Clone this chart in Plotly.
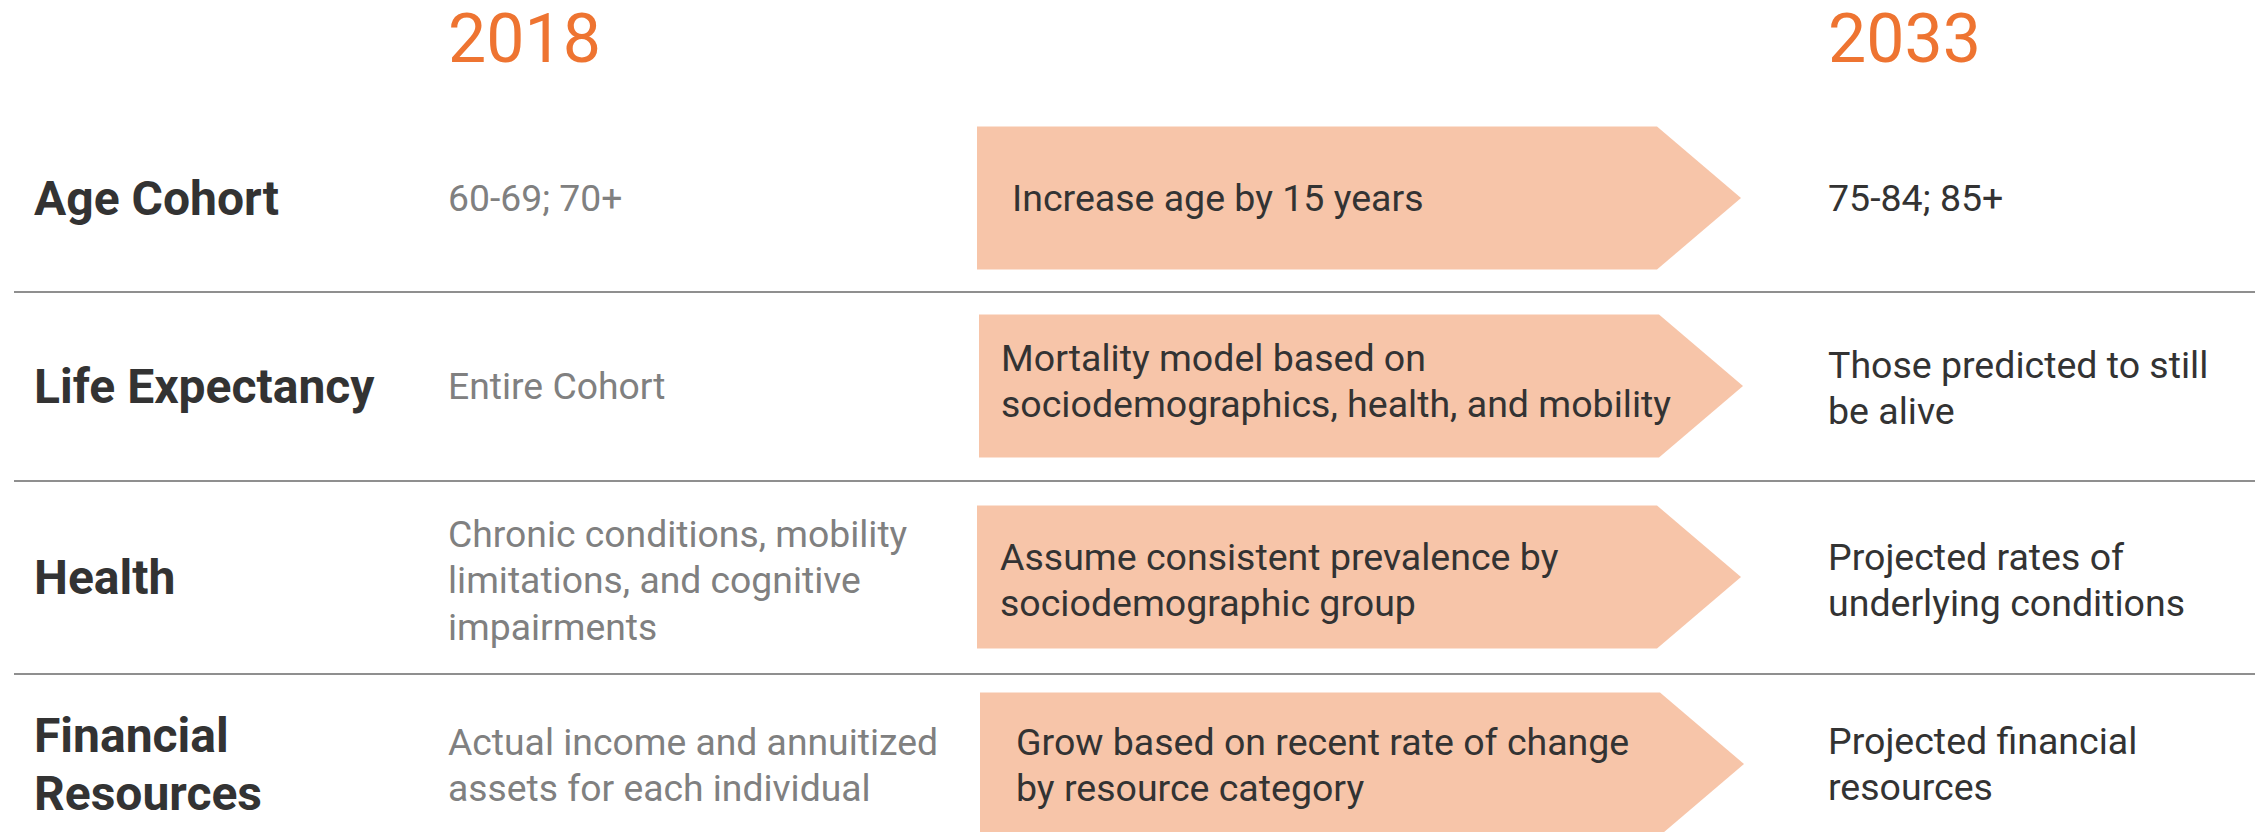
import plotly.graph_objects as go

# ---- content ----
years = ["2018", "2033"]
row_labels = ["Age Cohort", "Life Expectancy", "Health", "Financial<br>Resources"]
baseline_text = [
    "60-69; 70+",
    "Entire Cohort",
    "Chronic conditions, mobility<br>limitations, and cognitive<br>impairments",
    "Actual income and annuitized<br>assets for each individual",
]
method_text = [
    "Increase age by 15 years",
    "Mortality model based on<br>sociodemographics, health, and mobility",
    "Assume consistent prevalence by<br>sociodemographic group",
    "Grow based on recent rate of change<br>by resource category",
]
projected_text = [
    "75-84; 85+",
    "Those predicted to still<br>be alive",
    "Projected rates of<br>underlying conditions",
    "Projected financial<br>resources",
]

# ---- layout constants ----
W, H = 2267, 832
row_centers = [198, 386, 577, 764]
sep_y = [292, 481, 674]
arrow_left = [977, 979, 977, 980]
arrow_text_x = [1010, 999, 998, 1014]
arrow_body_w = 680
arrow_tip_w = 84
arrow_h = 143
label_x = 32
base_x = 446
proj_x = 1826
year_x = [446, 1826]
year_y = 39
# small per-row vertical nudges of the text blocks
dy_label = [0, 0, 0, 0]
dy_base = [0, 0, 3, 1]
dy_method = [0, -5, 3, 1]
dy_proj = [0, 2, 3, 0]

ORANGE = "#EE7431"
PEACH = "#F7C5A9"
DARK = "#333333"
GRAY = "#808080"
FONT = "Roboto"

fig = go.Figure()
# invisible trace to establish axes
fig.add_trace(go.Scatter(x=[0, W], y=[0, H], mode="markers",
                         marker=dict(opacity=0), hoverinfo="skip", showlegend=False))

shapes = []
for y in sep_y:
    shapes.append(dict(type="line", xref="x", yref="y", x0=14, x1=2255, y0=y, y1=y,
                       line=dict(color="#8f8f8f", width=2)))
for i, cy in enumerate(row_centers):
    x0 = arrow_left[i]
    x1 = x0 + arrow_body_w
    xt = x1 + arrow_tip_w
    y0 = cy - arrow_h / 2
    y1 = cy + arrow_h / 2
    path = f"M {x0},{y0} L {x1},{y0} L {xt},{cy} L {x1},{y1} L {x0},{y1} Z"
    shapes.append(dict(type="path", xref="x", yref="y", path=path,
                       fillcolor=PEACH, line=dict(width=0), layer="below"))

annotations = []


def add_lines(text, x, cy, size, color, spacing, bold=False):
    lines = text.split("<br>")
    n = len(lines)
    for k, ln in enumerate(lines):
        y = cy + (k - (n - 1) / 2) * spacing
        annotations.append(dict(
            x=x, y=y, xref="x", yref="y", text=ln, showarrow=False,
            xanchor="left", yanchor="middle", align="left",
            font=dict(family=FONT, size=size, color=color,
                      weight="bold" if bold else "normal")))


for i, yr in enumerate(years):
    add_lines(yr, year_x[i], year_y, 68, ORANGE, 0)

for i, cy in enumerate(row_centers):
    add_lines(row_labels[i], label_x, cy + dy_label[i], 48, DARK, 58, bold=True)
    add_lines(baseline_text[i], base_x, cy + dy_base[i], 37.3, GRAY, 46.5)
    add_lines(method_text[i], arrow_text_x[i], cy + dy_method[i], 37.5, DARK, 46.5)
    add_lines(projected_text[i], proj_x, cy + dy_proj[i], 37.5, DARK, 46.5)

fig.update_layout(
    width=W, height=H,
    margin=dict(l=0, r=0, t=0, b=0),
    paper_bgcolor="white", plot_bgcolor="white",
    xaxis=dict(range=[0, W], visible=False, fixedrange=True),
    yaxis=dict(range=[H, 0], visible=False, fixedrange=True),
    shapes=shapes, annotations=annotations,
    showlegend=False,
)

fig.write_html("out.html", config={"displayModeBar": False},
               post_script="document.body.style.margin='0';document.body.style.overflow='hidden';")
